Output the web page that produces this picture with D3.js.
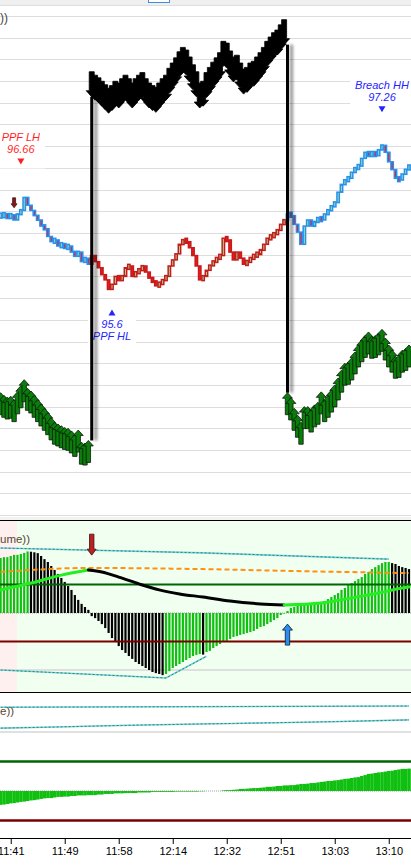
<!DOCTYPE html>
<html><head><meta charset="utf-8">
<script src="https://cdn.jsdelivr.net/npm/d3@7"></script>
<style>body{margin:0;background:#fff;overflow:hidden}svg{display:block;font-family:"Liberation Sans",Arial,sans-serif}</style>
</head><body><svg id="c" width="411" height="866"></svg>
<script>
// ---------------- DATA ----------------
const tickIdx = [3,19,35,51,67,83,99,115];
const tickLabels = ["11:41","11:49","11:58","12:14","12:32","12:51","13:03","13:10"];

const priceClose = [96.45,96.46,96.43,96.46,96.40,96.47,96.51,96.66,96.57,96.51,
96.45,96.40,96.33,96.30,96.21,96.15,96.17,96.10,96.12,96.08,
96.10,96.03,95.99,96.03,95.92,95.96,95.89,95.99,95.92,95.85,
95.77,95.71,95.60,95.66,95.75,95.71,95.75,95.85,95.87,95.75,
95.80,95.82,95.87,95.80,95.73,95.69,95.65,95.66,95.71,95.75,
95.87,95.94,96.01,96.12,96.17,96.15,96.08,95.99,95.87,95.71,
95.75,95.82,95.88,95.92,95.96,95.99,96.19,96.17,96.03,95.94,
96.03,95.96,95.89,95.92,95.96,95.99,96.01,96.05,96.12,96.19,
96.21,96.24,96.28,96.35,96.40,96.47,96.45,96.35,96.26,96.12,
96.33,96.40,96.33,96.38,96.42,96.40,96.47,96.51,96.56,96.60,
96.72,96.81,96.86,96.88,96.95,97.00,97.02,97.11,97.18,97.14,
97.18,97.14,97.21,97.26,97.18,97.07,96.98,96.88,96.86,96.93,
96.98,97.03];
const trendStart = [0,27,85];
const trendState = ["up","down","up"];

const upArrowsLeftStart = 0;
const upArrowsLeft = [94.41,94.38,94.36,94.37,94.33,94.42,94.49,94.56,94.46,94.43,94.38,94.33,94.28,94.23,94.18,94.12,94.07,94.05,94.03,94.01,94.00,93.97,93.93,93.98,93.84,93.83,93.86];
const downArrowsStart = 27;
const downArrows = [97.82,97.78,97.75,97.71,97.67,97.63,97.66,97.71,97.69,97.74,
97.78,97.74,97.69,97.74,97.78,97.81,97.74,97.69,97.66,97.64,
97.69,97.74,97.78,97.86,97.92,97.98,98.05,98.10,98.07,97.99,
97.90,97.82,97.69,97.71,97.81,97.87,97.93,97.98,98.04,98.17,
98.15,98.06,97.99,98.01,97.92,97.85,97.87,97.92,97.94,97.99,
98.04,98.10,98.17,98.22,98.27,98.30,98.36,98.42];
const upArrowsRightStart = 85;
const upArrowsRight = [94.41,94.35,94.23,94.15,94.07,94.25,94.25,94.21,94.27,94.30,94.42,94.33,94.38,94.44,94.50,94.58,94.67,94.75,94.76,94.81,94.88,94.96,95.02,95.07,95.11,95.06,95.07,95.10,95.14,95.04,94.96,94.90,94.83,94.84,94.90,94.92,94.96];

const markerIdx = [6,33,113];
const markerVal = [96.66,95.6,97.26];
const markerDir = ["down","up","down"];
const markerName = ["PPF LH","PPF HL","Breach HH"];

const priceSignalIdx = [4];
const priceSignalVal = [96.54];

const osc1Hist = [1.93,1.96,1.96,2.00,2.04,2.04,2.07,2.11,2.16,2.15,
2.13,2.10,2.00,1.89,1.79,1.65,1.51,1.37,1.23,1.09,
0.95,0.81,0.63,0.46,0.32,0.21,0.11,-0.11,-0.18,-0.28,
-0.39,-0.53,-0.70,-0.88,-1.02,-1.16,-1.30,-1.40,-1.51,-1.61,
-1.72,-1.79,-1.86,-1.93,-2.00,-2.07,-2.11,-2.14,-2.18,-2.14,
-2.04,-1.93,-1.86,-1.79,-1.72,-1.65,-1.58,-1.51,-1.47,-1.44,
-1.46,-1.37,-1.33,-1.23,-1.16,-1.09,-1.02,-0.98,-0.91,-0.84,
-0.81,-0.77,-0.74,-0.70,-0.67,-0.63,-0.56,-0.49,-0.46,-0.39,
-0.32,-0.25,-0.18,-0.07,-0.02,0.07,0.18,0.21,0.25,0.28,
0.28,0.32,0.32,0.35,0.35,0.39,0.42,0.49,0.56,0.63,
0.70,0.81,0.88,0.98,1.05,1.12,1.19,1.26,1.37,1.44,
1.54,1.61,1.68,1.75,1.79,1.79,1.75,1.72,1.65,1.61,
1.58,1.54];
const osc1SigIdx = [0,9,18,26,30,35,41,47,53,60,68,77,84,95,104,112,116,121];
const osc1SigVal = [0.81,1.05,1.33,1.51,1.44,1.26,1.02,0.81,0.67,0.56,0.42,0.32,0.28,0.35,0.53,0.70,0.81,0.91];
const osc1OrangeIdx = [0,26,60,88,121];
const osc1OrangeVal = [1.44,1.58,1.54,1.47,1.40];
const osc1TealUpIdx = [0,60,115];
const osc1TealUpVal = [2.28,2.11,1.89];
const osc1TealLoIdx = [0,49,61];
const osc1TealLoVal = [-2.0,-2.28,-1.52];
const osc1Levels = [1,-1,-2];
const osc1ArrowIdx = [27,85];
const osc1ArrowVal = [2.03,-0.39];
const osc1ArrowDir = ["down","up"];

const osc2Hist = [-0.47,-0.46,-0.44,-0.42,-0.41,-0.39,-0.37,-0.36,-0.34,-0.32,
-0.31,-0.29,-0.27,-0.25,-0.24,-0.24,-0.22,-0.20,-0.20,-0.19,
-0.19,-0.17,-0.17,-0.15,-0.15,-0.15,-0.14,-0.14,-0.14,-0.12,
-0.12,-0.10,-0.10,-0.10,-0.08,-0.08,-0.08,-0.07,-0.07,-0.07,
-0.07,-0.05,-0.05,-0.05,-0.05,-0.03,-0.03,-0.03,-0.03,-0.03,
-0.03,-0.03,-0.02,-0.02,-0.02,-0.02,-0.02,-0.02,-0.02,-0.01,
-0.01,0,0,0,0,0,0.02,0.03,0.03,0.04,
0.05,0.07,0.07,0.08,0.09,0.10,0.10,0.11,0.12,0.14,
0.14,0.15,0.17,0.17,0.19,0.19,0.20,0.20,0.22,0.24,
0.24,0.25,0.27,0.27,0.29,0.31,0.32,0.34,0.34,0.36,
0.37,0.39,0.41,0.42,0.44,0.46,0.47,0.51,0.54,0.58,
0.59,0.61,0.63,0.64,0.66,0.68,0.69,0.71,0.73,0.75,
0.75,0.76];
const osc2TealUpIdx = [0,121];
const osc2TealUpVal = [2.84,2.88];
const osc2TealLoIdx = [0,20,39,69,98,121];
const osc2TealLoVal = [2.13,2.18,2.23,2.29,2.35,2.41];
const osc2Levels = [2,1,-1];

// ---------------- DRAW ----------------
const W = 411;
const svg = d3.select("#c");
const defs = svg.append("defs");
const f = defs.append("filter").attr("id","sh").attr("x","-200%").attr("y","-5%").attr("width","600%").attr("height","110%");
f.append("feGaussianBlur").attr("in","SourceAlpha").attr("stdDeviation",1.8).attr("result","b");
f.append("feOffset").attr("in","b").attr("dx",3.5).attr("dy",0).attr("result","o");
f.append("feComponentTransfer").attr("in","o").attr("result","o2").append("feFuncA").attr("type","linear").attr("slope",0.45);
const fm = f.append("feMerge"); fm.append("feMergeNode").attr("in","o2"); fm.append("feMergeNode").attr("in","SourceGraphic");

const x = d3.scaleLinear().domain([0,121]).range([0.6,409]);
const yP = d3.scaleLinear().domain([93.0,98.75]).range([515.1,16]);
const y1 = d3.scaleLinear().domain([0,1]).range([613,584.5]);
const y2 = d3.scaleLinear().domain([0,1]).range([791,761.5]);

// toolbar
svg.append("rect").attr("x",0).attr("y",0).attr("width",W).attr("height",5).attr("fill","#efefef");
svg.append("line").attr("x1",0).attr("x2",W).attr("y1",5.5).attr("y2",5.5).attr("stroke","#dedede");
svg.append("rect").attr("x",148.5).attr("y",-1).attr("width",21).attr("height",3.5).attr("fill","#fff").attr("stroke","#3c8ee8");

// main panel
const main = svg.append("g");
defs.append("clipPath").attr("id","cm").append("rect").attr("x",0).attr("y",6).attr("width",W).attr("height",512);
main.attr("clip-path","url(#cm)");
const gridVals = d3.range(0,24).map(k=>93+0.25*k);
main.selectAll("line.g").data(gridVals).join("line")
  .attr("x1",0).attr("x2",W).attr("y1",d=>Math.round(yP(d))+0.5).attr("y2",d=>Math.round(yP(d))+0.5)
  .attr("stroke","#dddddd").attr("stroke-width",1);
main.append("text").attr("x",0).attr("y",22).attr("font-size",12).attr("fill","#444").text("))");

// marker labels with white boxes
const mG = main.append("g");
const markerColor = n => n==="PPF LH" ? "#ff1f1f" : "#2424ff";
markerIdx.forEach((idx,k)=>{
  const cx = x(idx), v = markerVal[k], dir = markerDir[k];
  const g = mG.append("g");
  let tri, l1, l2, t1, t2;
  if(dir==="down"){ tri = yP(v)-36; l1 = tri-20; l2 = tri-8; t1 = markerName[k]; t2 = String(v); }
  else { tri = yP(v)+23; l1 = tri+16; l2 = tri+28; t1 = String(v); t2 = markerName[k]; }
  const bg = g.append("rect").attr("fill","#fff");
  const tg = g.append("g").attr("fill",markerColor(markerName[k])).attr("font-size",11).attr("font-style","italic").attr("text-anchor","middle");
  tg.append("text").attr("x",cx).attr("y",l1).text(t1);
  tg.append("text").attr("x",cx).attr("y",l2).text(t2);
  const tp = dir==="down" ? `M${cx-3.5},${tri-3}L${cx+3.5},${tri-3}L${cx},${tri+3}Z` : `M${cx-3.5},${tri+3}L${cx+3.5},${tri+3}L${cx},${tri-3}Z`;
  tg.append("path").attr("d",tp);
  const bb = tg.node().getBBox();
  bg.attr("x",bb.x-5).attr("y",bb.y-5).attr("width",bb.width+10).attr("height",bb.height+9);
});

// candles
function stateAt(i){ let s = trendState[0]; trendStart.forEach((st,k)=>{ if(i>=st) s = trendState[k]; }); return s; }
const candles = priceClose.map((c,i)=>({i, o: i>0?priceClose[i-1]:c, c}));
const minH = 5;
main.append("g").selectAll("rect").data(candles).join("rect")
  .attr("x",d=>x(d.i)-1.2).attr("width",2.4)
  .attr("y",d=>{const h=Math.abs(yP(d.o)-yP(d.c)); const t=yP(Math.max(d.o,d.c)); return h<minH ? t-(minH-h)/2 : t;})
  .attr("height",d=>Math.max(minH, Math.abs(yP(d.o)-yP(d.c))))
  .attr("fill",d=>d.c>=d.o ? "#9fe39a" : "#ff1414")
  .attr("stroke",d=>stateAt(d.i)==="up" ? "#2891f0" : "#c41c1c").attr("stroke-width",1.5);

// arrows
function upArrow(cx,ty,len,hw,hh,sw){return `M${cx},${ty}L${cx+hw},${ty+hh}L${cx+sw},${ty+hh}L${cx+sw},${ty+len}L${cx-sw},${ty+len}L${cx-sw},${ty+hh}L${cx-hw},${ty+hh}Z`;}
function downArrow(cx,ty,len,hw,hh,sw){return `M${cx},${ty}L${cx+hw},${ty-hh}L${cx+sw},${ty-hh}L${cx+sw},${ty-len}L${cx-sw},${ty-len}L${cx-sw},${ty-hh}L${cx-hw},${ty-hh}Z`;}
const upData = upArrowsLeft.map((v,k)=>({i:upArrowsLeftStart+k,v})).concat(upArrowsRight.map((v,k)=>({i:upArrowsRightStart+k,v})));
main.append("g").selectAll("path").data(upData).join("path")
  .attr("d",d=>upArrow(x(d.i),yP(d.v),22,5,5.5,2.2)).attr("fill","#0a7d0a").attr("stroke","#0b1a0b").attr("stroke-width",0.8);
const dnData = downArrows.map((v,k)=>({i:downArrowsStart+k,v}));
main.append("g").selectAll("path").data(dnData).join("path")
  .attr("d",d=>downArrow(x(d.i),yP(d.v),25,5.5,6,2.5)).attr("fill","#000").attr("stroke","#000").attr("stroke-width",0.8);

// vertical switch lines
const sw = [
  {i:downArrowsStart, top: downArrows[0], bot: upArrowsLeft[upArrowsLeft.length-1]},
  {i:upArrowsRightStart, top: downArrows[downArrows.length-1], bot: upArrowsRight[0]}
];
main.append("g").selectAll("rect").data(sw).join("rect")
  .attr("x",d=>x(d.i)-1.5).attr("width",3)
  .attr("y",d=>yP(d.top)).attr("height",d=>yP(d.bot)-yP(d.top))
  .attr("fill","#000").attr("filter","url(#sh)");

// price signal arrow
priceSignalIdx.forEach((idx,k)=>{
  main.append("path").attr("d",downArrow(x(idx),yP(priceSignalVal[k]),10,3,4,1.5)).attr("fill","#8e1414").attr("stroke","#2a0a0a").attr("stroke-width",0.7);
});

// separator
svg.append("rect").attr("x",0).attr("y",517).attr("width",W).attr("height",3).attr("fill","#f2f2f2");

// ---- oscillator panel 1 ----
const p1 = svg.append("g");
defs.append("clipPath").attr("id","c1").append("rect").attr("x",0).attr("y",520).attr("width",W).attr("height",172);
p1.attr("clip-path","url(#c1)");
p1.append("rect").attr("x",0).attr("y",520).attr("width",17).attr("height",172).attr("fill","#fff0f0");
p1.append("rect").attr("x",17).attr("y",520).attr("width",W-17).attr("height",172).attr("fill","#f1fff1");
p1.append("line").attr("x1",0).attr("x2",W).attr("y1",y1(0)).attr("y2",y1(0)).attr("stroke","#a0a0a0").attr("stroke-dasharray","1,1");
p1.append("line").attr("x1",0).attr("x2",W).attr("y1",y1(-2)).attr("y2",y1(-2)).attr("stroke","#d6d6d6").attr("stroke-width",1.5);
const lineIdx = d3.line().x(d=>x(d[0])).y(d=>d[1]).curve(d3.curveMonotoneX);
const lineLin = d3.line().x(d=>x(d[0])).y(d=>d[1]);
const tealLo = osc1TealLoIdx.map((i,k)=>[i,y1(osc1TealLoVal[k])]);
p1.append("path").attr("d",lineLin(tealLo)).attr("fill","none").attr("stroke","#7fcfcf").attr("stroke-width",1.6);
p1.append("path").attr("d",lineLin(tealLo)).attr("fill","none").attr("stroke","#128c8c").attr("stroke-width",1).attr("stroke-dasharray","2,2");
p1.append("g").selectAll("rect").data(osc1Hist).join("rect")
  .attr("x",(d,i)=>x(i)-1.1).attr("width",2.2)
  .attr("y",d=>Math.min(y1(d),y1(0))).attr("height",d=>Math.abs(y1(d)-y1(0)))
  .attr("fill",(d,i)=> (i===0 || d>=osc1Hist[i-1]) ? "#10c010" : "#000");
const tealUp = osc1TealUpIdx.map((i,k)=>[i,y1(osc1TealUpVal[k])]);
p1.append("path").attr("d",lineLin(tealUp)).attr("fill","none").attr("stroke","#7fcfcf").attr("stroke-width",1.6);
p1.append("path").attr("d",lineLin(tealUp)).attr("fill","none").attr("stroke","#128c8c").attr("stroke-width",1).attr("stroke-dasharray","2,2");
p1.append("line").attr("x1",0).attr("x2",W).attr("y1",y1(osc1Levels[0])).attr("y2",y1(osc1Levels[0])).attr("stroke","#006400").attr("stroke-width",2);
p1.append("line").attr("x1",0).attr("x2",W).attr("y1",y1(osc1Levels[1])).attr("y2",y1(osc1Levels[1])).attr("stroke","#7a0000").attr("stroke-width",2);
const orange = osc1OrangeIdx.map((i,k)=>[i,y1(osc1OrangeVal[k])]);
p1.append("path").attr("d",lineIdx(orange)).attr("fill","none").attr("stroke","#ff9010").attr("stroke-width",2).attr("stroke-dasharray","5,3");
// signal line colored by direction
const sig = osc1SigIdx.map((i,k)=>[i,y1(osc1SigVal[k])]);
let groups = [], cur = null;
for(let k=0;k<sig.length-1;k++){
  const col = osc1SigVal[k+1]>=osc1SigVal[k] ? "#22ee22" : "#000";
  if(!cur || cur.col!==col){ cur = {col, pts:[sig[k]]}; groups.push(cur); }
  cur.pts.push(sig[k+1]);
}
groups.forEach(g=>p1.append("path").attr("d",lineIdx(g.pts)).attr("fill","none").attr("stroke",g.col).attr("stroke-width",3).attr("stroke-linecap","round"));
osc1ArrowIdx.forEach((idx,k)=>{
  const cx = x(idx), ty = y1(osc1ArrowVal[k]);
  if(osc1ArrowDir[k]==="down") p1.append("path").attr("d",downArrow(cx,ty,21,4.5,6,2.2)).attr("fill","#b82222").attr("stroke","#3a1010").attr("stroke-width",0.8);
  else p1.append("path").attr("d",upArrow(cx,ty,21,5,6,2.2)).attr("fill","#2a8ff0").attr("stroke","#0a1a30").attr("stroke-width",0.8);
});
p1.append("text").attr("x",0).attr("y",543).attr("font-size",11.5).attr("fill","#5a4632").text("ume))");
svg.append("line").attr("x1",0).attr("x2",W).attr("y1",520.5).attr("y2",520.5).attr("stroke","#000");
svg.append("line").attr("x1",0).attr("x2",W).attr("y1",692.5).attr("y2",692.5).attr("stroke","#000");

// ---- oscillator panel 2 ----
const p2 = svg.append("g");
defs.append("clipPath").attr("id","c2").append("rect").attr("x",0).attr("y",693).attr("width",W).attr("height",145);
p2.attr("clip-path","url(#c2)");
p2.append("line").attr("x1",0).attr("x2",W).attr("y1",y2(0)).attr("y2",y2(0)).attr("stroke","#a0a0a0").attr("stroke-dasharray","1,1");
p2.append("g").selectAll("rect").data(osc2Hist).join("rect")
  .attr("x",(d,i)=>x(i)-1.7).attr("width",3.5)
  .attr("y",d=>Math.min(y2(d),y2(0))).attr("height",d=>Math.abs(y2(d)-y2(0)))
  .attr("fill","#10c010");
p2.append("line").attr("x1",0).attr("x2",W).attr("y1",y2(osc2Levels[0])).attr("y2",y2(osc2Levels[0])).attr("stroke","#d6d6d6").attr("stroke-width",1.5);
p2.append("line").attr("x1",0).attr("x2",W).attr("y1",y2(osc2Levels[1])).attr("y2",y2(osc2Levels[1])).attr("stroke","#006400").attr("stroke-width",2.5);
p2.append("line").attr("x1",0).attr("x2",W).attr("y1",y2(osc2Levels[2])).attr("y2",y2(osc2Levels[2])).attr("stroke","#7a0000").attr("stroke-width",2.5);
[ [osc2TealUpIdx,osc2TealUpVal], [osc2TealLoIdx,osc2TealLoVal] ].forEach(([ix,vv])=>{
  const pts = ix.map((i,k)=>[i,y2(vv[k])]);
  p2.append("path").attr("d",lineIdx(pts)).attr("fill","none").attr("stroke","#7fcfcf").attr("stroke-width",1.6);
  p2.append("path").attr("d",lineIdx(pts)).attr("fill","none").attr("stroke","#128c8c").attr("stroke-width",1).attr("stroke-dasharray","2,2");
});
p2.append("text").attr("x",0).attr("y",715).attr("font-size",11.5).attr("fill","#5a4632").text("e))");

// ---- x axis ----
const ax = svg.append("g").attr("transform","translate(0,838)")
  .call(d3.axisBottom(x).tickValues(tickIdx).tickFormat((d,i)=>tickLabels[i]).tickSize(6).tickSizeOuter(0));
ax.select(".domain").remove();
ax.selectAll("text").attr("font-size",11).attr("fill","#000").attr("font-family","'Liberation Sans',Arial,sans-serif");
ax.selectAll("line").attr("stroke","#000");
svg.append("line").attr("x1",0).attr("x2",W).attr("y1",838.5).attr("y2",838.5).attr("stroke","#000");
</script></body></html>
